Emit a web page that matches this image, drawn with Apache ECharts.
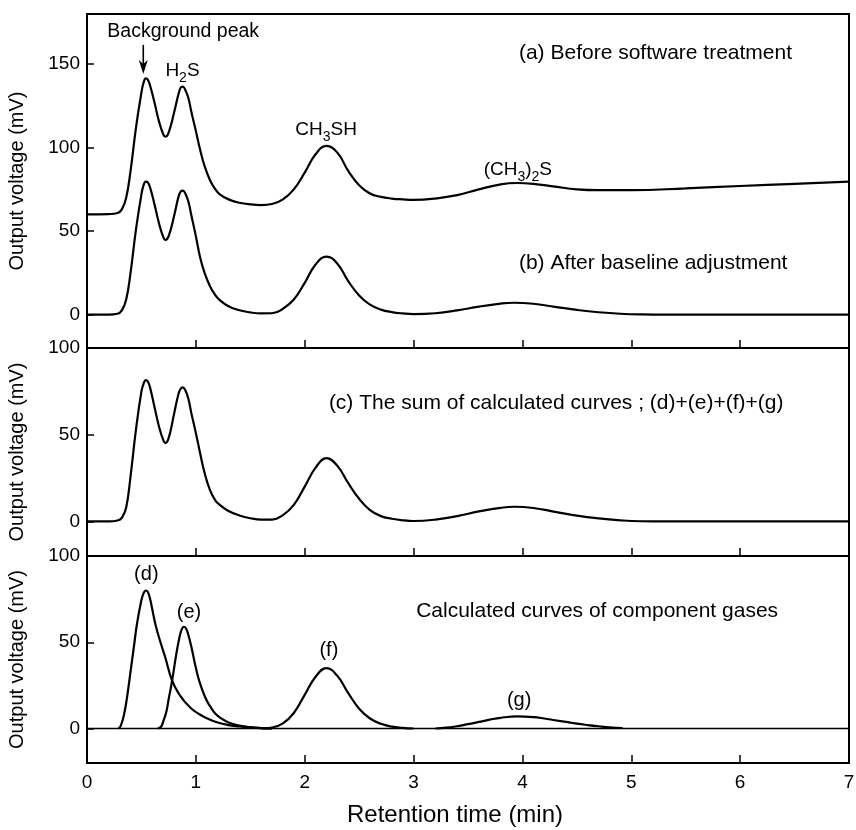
<!DOCTYPE html>
<html>
<head>
<meta charset="utf-8">
<script src="https://cdn.jsdelivr.net/npm/echarts@6/dist/echarts.min.js"></script>
<style>
html,body{margin:0;padding:0;background:#fff;}
#chart{width:856px;height:830px;}
</style>
</head>
<body>
<div id="chart"></div>
<script>
// ---------------- data ----------------
const xTicks = [0, 1, 2, 3, 4, 5, 6, 7];
const yTicksTop = [0, 50, 100, 150];
const yTicksLower = [0, 50, 100];

// (a) Before software treatment  [retention time (min), output voltage (mV)]
const curveA = [[0,60],[0.2,60.2],[0.28,60.8],[0.32,63],[0.36,70],[0.4,86],[0.45,112],[0.5,133],[0.52,139],[0.54,141.5],[0.56,140.5],[0.58,137],[0.62,127],[0.66,116],[0.7,108],[0.72,106.5],[0.75,109],[0.8,121],[0.84,132],[0.86,135.8],[0.88,136.5],[0.9,135],[0.93,130],[0.96,121],[1.0,110],[1.04,98.5],[1.08,89],[1.13,80.5],[1.18,75],[1.22,72],[1.3,69],[1.4,67],[1.5,66],[1.6,65.6],[1.7,66.2],[1.8,69],[1.9,75],[2.0,85],[2.1,96],[2.2,101],[2.3,97],[2.4,86],[2.5,77.5],[2.6,72.5],[2.7,70.5],[2.8,69.5],[2.9,69],[3.0,68.7],[3.2,69.5],[3.4,71.5],[3.6,75],[3.8,78],[3.95,78.8],[4.1,78.3],[4.3,76.6],[4.5,75],[4.7,74.5],[5.0,74.5],[5.5,75.6],[6.0,77],[6.5,78.3],[7.0,79.6]];

// (b) After baseline adjustment
const curveB = [[0,0],[0.2,0],[0.28,0.5],[0.32,2.5],[0.36,9],[0.4,25],[0.45,51],[0.5,72],[0.52,77.5],[0.54,79.6],[0.56,79],[0.58,76],[0.62,66],[0.66,55],[0.7,46.5],[0.72,44.7],[0.75,47],[0.8,59],[0.84,70.5],[0.86,73.6],[0.88,74.2],[0.9,73],[0.93,68],[0.96,59],[1.0,47],[1.04,34],[1.08,25],[1.13,17],[1.18,11.5],[1.22,8.7],[1.3,5],[1.4,2.6],[1.5,1.3],[1.6,0.7],[1.7,0.8],[1.8,3.5],[1.9,9],[2.0,19],[2.1,30],[2.2,34.7],[2.3,30.5],[2.4,20],[2.5,11.5],[2.6,6],[2.7,3],[2.8,1.5],[2.9,0.7],[3.0,0.3],[3.2,0.8],[3.4,2.5],[3.6,4.8],[3.8,6.6],[3.92,7.1],[4.1,6.5],[4.3,4.6],[4.5,2.8],[4.7,1.4],[4.9,0.5],[5.1,0.1],[5.3,0],[7,0]];

// (c) The sum of calculated curves
const curveC = [[0,0],[0.2,0],[0.28,0.5],[0.32,2],[0.36,8],[0.4,26],[0.45,53],[0.5,75],[0.52,79.5],[0.54,81.5],[0.56,80.5],[0.58,77],[0.62,66],[0.66,55],[0.7,47],[0.72,45.2],[0.75,48],[0.8,62],[0.84,73.5],[0.86,76.5],[0.88,77.3],[0.9,76],[0.93,71],[0.96,62],[1.0,51],[1.04,39],[1.08,28],[1.13,18],[1.18,12],[1.22,9.5],[1.3,6],[1.4,3.4],[1.5,1.8],[1.6,1],[1.7,1],[1.8,3.6],[1.9,9.5],[2.0,20],[2.1,31],[2.2,36.5],[2.3,32],[2.4,22],[2.5,13],[2.6,6.5],[2.7,3],[2.8,1.5],[2.9,0.6],[3.0,0.2],[3.2,1],[3.4,3],[3.6,5.7],[3.8,7.8],[3.93,8.4],[4.1,7.7],[4.3,5.5],[4.5,3.3],[4.7,1.7],[4.9,0.6],[5.0,0.2],[5.2,0],[7,0]];

// calculated component curves
const curveD = [[0.29,0],[0.31,1.5],[0.34,8],[0.37,19],[0.4,33],[0.43,47],[0.46,61],[0.5,74.5],[0.52,78.5],[0.54,80],[0.56,79],[0.58,75],[0.6,69],[0.63,60],[0.67,51],[0.72,41],[0.78,28],[0.85,19.5],[0.95,12],[1.04,8],[1.1,6],[1.2,3.5],[1.3,2],[1.4,1.2],[1.5,0.6],[1.6,0.2],[1.7,0]];
const curveE = [[0.65,0],[0.68,1],[0.7,4],[0.73,10],[0.75,17],[0.78,27],[0.82,43],[0.85,53],[0.87,57.5],[0.89,59],[0.91,58],[0.93,54.5],[0.96,47],[0.99,38],[1.02,30],[1.05,24],[1.08,19],[1.11,15],[1.14,12],[1.18,8.5],[1.23,6],[1.3,3.5],[1.4,1.7],[1.5,0.8],[1.6,0.3],[1.7,0]];
const curveF = [[1.6,0],[1.7,0.6],[1.8,3],[1.9,9],[2.0,19.5],[2.1,30],[2.2,35],[2.3,30.5],[2.4,20.5],[2.5,11.5],[2.6,5.8],[2.7,2.7],[2.8,1.1],[2.9,0.4],[3.0,0]];
const curveG = [[3.2,0],[3.3,0.5],[3.4,1.3],[3.5,2.5],[3.6,3.8],[3.7,5.1],[3.8,6.2],[3.95,7],[4.1,6.6],[4.2,5.8],[4.3,4.8],[4.4,3.8],[4.5,2.8],[4.6,2],[4.7,1.3],[4.8,0.7],[4.92,0.3]];
const zeroLine = [[0,0],[7,0]];

// ---------------- styling / layout ----------------
const FONT = '"Liberation Sans", Arial, Helvetica, sans-serif';
const BLACK = '#000';
const panels = [
  {top: 14, height: 334, min: -20, max: 180, ticks: yTicksTop},
  {top: 348, height: 208, min: -20, max: 100, ticks: yTicksLower},
  {top: 556, height: 207, min: -20, max: 100, ticks: yTicksLower}
];

const grid = panels.map(p => ({
  left: 87, right: 7, top: p.top, height: p.height,
  show: true, borderColor: BLACK, borderWidth: 2, backgroundColor: 'transparent',
  containLabel: false, outerBoundsMode: 'none'
}));

const xAxis = panels.map((p, i) => ({
  type: 'value', gridIndex: i, position: 'bottom',
  min: xTicks[0], max: xTicks[xTicks.length - 1], interval: 1,
  axisLine: {show: false, onZero: false},
  axisTick: {show: true, inside: true, length: 8, lineStyle: {color: BLACK, width: 1.5}},
  axisLabel: {show: i === 2, color: BLACK, fontSize: 19, fontFamily: FONT, margin: 10},
  splitLine: {show: false},
  name: i === 2 ? 'Retention time (min)' : '',
  nameLocation: 'middle', nameGap: 40,
  nameTextStyle: {color: BLACK, fontSize: 24, fontFamily: FONT, padding: [0, 26, 0, 0]}
}));

const yAxis = panels.map((p, i) => ({
  type: 'value', gridIndex: i, min: p.min, max: p.max,
  axisLine: {show: false, onZero: false},
  axisTick: {show: true, inside: true, length: 7, customValues: p.ticks, lineStyle: {color: BLACK, width: 1.5}},
  axisLabel: {show: true, customValues: p.ticks, color: BLACK, fontSize: 19, fontFamily: FONT, margin: 7},
  splitLine: {show: false},
  name: 'Output voltage (mV)', nameLocation: 'middle', nameGap: 60,
  nameTextStyle: {color: BLACK, fontSize: 20, fontFamily: FONT}
}));

function lineSeries(name, data, gi, width) {
  return {
    name, type: 'line', data, xAxisIndex: gi, yAxisIndex: gi,
    smooth: 0.45, showSymbol: false, symbol: 'none', silent: true,
    lineStyle: {color: BLACK, width: width || 2.2},
    emphasis: {disabled: true}
  };
}

const series = [
  lineSeries('a', curveA, 0),
  lineSeries('b', curveB, 0),
  lineSeries('c', curveC, 1),
  lineSeries('zero', zeroLine, 2, 1.5),
  lineSeries('d', curveD, 2),
  lineSeries('e', curveE, 2),
  lineSeries('f', curveF, 2),
  lineSeries('g', curveG, 2)
];

const chart = echarts.init(document.getElementById('chart'), null, {renderer: 'canvas'});
chart.setOption({
  backgroundColor: '#fff',
  animation: false,
  grid, xAxis, yAxis, series
});

// ---------------- annotations (anchored in data coordinates) ----------------
const RICH = {
  n: {fontSize: 19, fontFamily: FONT, lineHeight: 28, color: BLACK},
  s: {fontSize: 14, fontFamily: FONT, lineHeight: 17, verticalAlign: 'bottom', color: BLACK}
};
const notes = [
  {g: 0, x: 0.884, y: 169.2, text: 'Background peak', size: 19.5, align: 'center'},
  {g: 0, x: 0.877, y: 145.9, text: '{n|H}{s|2}{n|S}', rich: true, align: 'center'},
  {g: 0, x: 2.196, y: 110.5, text: '{n|CH}{s|3}{n|SH}', rich: true, align: 'center'},
  {g: 0, x: 3.958, y: 86.5, text: '{n|(CH}{s|3}{n|)}{s|2}{n|S}', rich: true, align: 'center'},
  {g: 0, x: 3.968, y: 156.6, text: '(a) Before software treatment', size: 21, align: 'left'},
  {g: 0, x: 3.968, y: 30.9, text: '(b) After baseline adjustment', size: 21, align: 'left'},
  {g: 1, x: 2.222, y: 68.3, text: '(c) The sum of calculated curves ; (d)+(e)+(f)+(g)', size: 21, align: 'left'},
  {g: 2, x: 3.024, y: 68.1, text: 'Calculated curves of component gases', size: 21, align: 'left'},
  {g: 2, x: 0.545, y: 89, text: '(d)', size: 20, align: 'center'},
  {g: 2, x: 0.937, y: 67.5, text: '(e)', size: 20, align: 'center'},
  {g: 2, x: 2.222, y: 45.5, text: '(f)', size: 20, align: 'center'},
  {g: 2, x: 3.97, y: 16.5, text: '(g)', size: 20, align: 'center'}
];
const arrow = {g: 0, x: 0.517, yTop: 161.5, yTip: 144};

function toPx(g, x, y) { return chart.convertToPixel({gridIndex: g}, [x, y]); }

const graphics = notes.map(n => {
  const p = toPx(n.g, n.x, n.y);
  const style = {
    text: n.text, fill: BLACK, align: n.align, verticalAlign: 'middle',
    fontFamily: FONT, fontSize: n.size || 19
  };
  if (n.rich) style.rich = RICH;
  return {type: 'text', x: p[0], y: p[1], silent: true, style};
});
const aTop = toPx(arrow.g, arrow.x, arrow.yTop);
const aTip = toPx(arrow.g, arrow.x, arrow.yTip);
graphics.push({
  type: 'line', silent: true,
  shape: {x1: aTop[0], y1: aTop[1], x2: aTip[0], y2: aTip[1] - 8},
  style: {stroke: BLACK, lineWidth: 1.6}
});
graphics.push({
  type: 'polygon', silent: true,
  shape: {points: [[aTip[0] - 4.5, aTip[1] - 14], [aTip[0], aTip[1]], [aTip[0] + 4.5, aTip[1] - 14], [aTip[0], aTip[1] - 10]]},
  style: {fill: BLACK}
});
chart.setOption({graphic: graphics});
</script>
</body>
</html>
